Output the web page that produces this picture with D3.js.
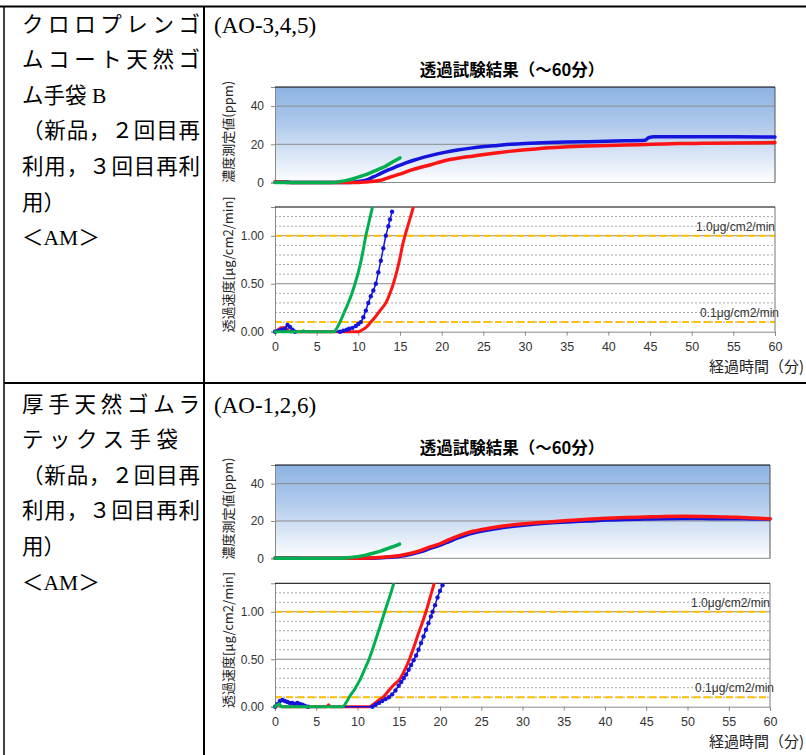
<!DOCTYPE html>
<html lang="ja">
<head>
<meta charset="utf-8">
<title>透過試験結果</title>
<style>
  html, body { margin: 0; background: #fff; }
  svg { display: block; }
</style>
</head>
<body>
<script src="https://cdn.jsdelivr.net/npm/d3@7/dist/d3.min.js"></script>
<script>
// ---- data: [minutes, value] ----
const concA_green = [[0,0],[6.8,0],[7.7,0.4],[8.6,1.1],[9.5,2.1],[10.4,3.4],[11.3,4.8],[12.2,6.5],[13.2,8.4],[14.1,10.7],[15.0,12.9]]
const concA_blue = [[0,0.3],[1.5,0.3],[2,0],[9,0],[10,0.5],[10.9,1.2],[11.8,2.9],[12.7,4.8],[13.6,6.6],[14.6,8.4],[15.7,10.3],[16.9,12],[18,13.4],[19.1,14.6],[20.5,15.9],[21.9,17],[23.5,18],[25.1,18.8],[26.7,19.4],[28.3,20],[30.6,20.5],[32.9,20.9],[35.2,21.2],[37.5,21.4],[39.8,21.6],[42.1,21.8],[44.4,22.1],[44.9,23.6],[45.5,23.9],[51.3,23.9],[55,23.9],[60,23.8]]
const concA_red = [[0,0.3],[1,0.3],[1.5,0],[10,0],[11,0.3],[11.8,0.6],[12.7,1.2],[13.6,2.5],[14.6,3.9],[15.5,5.2],[16.4,6.6],[17.5,8],[18.7,9.3],[19.8,10.7],[21,12],[22.3,13],[23.7,13.8],[25.1,14.7],[26.5,15.5],[28.1,16.3],[29.7,17],[31.3,17.6],[32.9,18.2],[35.2,18.7],[37.5,19.1],[39.8,19.4],[42.1,19.6],[44.4,19.9],[46.7,20.2],[49,20.4],[51.3,20.5],[55,20.7],[60,20.9]]

const rateA_green = [[0,0],[3.2,0],[3.4,0.01],[3.6,0],[7.1,0],[7.5,0.05],[7.8,0.1],[8.3,0.2],[8.7,0.28],[9.2,0.39],[9.6,0.5],[10,0.62],[10.3,0.73],[10.6,0.86],[10.9,1.0],[11.3,1.15],[11.7,1.3],[11.9,1.38]]
const rateA_blue = [[0,0],[0.4,0.01],[0.8,0.02],[1.2,0.03],[1.5,0.07],[1.8,0.05],[2.1,0.02],[2.4,0],[7.8,0],[8.2,0.01],[8.6,0.02],[8.9,0.03],[9.3,0.04],[9.7,0.06],[10,0.08],[10.3,0.1],[10.6,0.15],[10.9,0.22],[11.2,0.3],[11.5,0.37],[11.8,0.43],[12.1,0.5],[12.4,0.62],[12.7,0.74],[13,0.87],[13.3,1.0],[13.6,1.1],[13.8,1.17],[14.05,1.25]]
const rateA_red = [[0,0],[0.4,0.02],[0.7,0.04],[1.2,0.04],[1.5,0.02],[1.8,0],[10,0],[10.5,0.02],[11,0.05],[11.5,0.1],[12,0.15],[12.6,0.22],[13.3,0.3],[13.8,0.4],[14.2,0.5],[14.6,0.62],[15,0.77],[15.3,0.9],[15.6,1.0],[16,1.12],[16.6,1.3],[16.9,1.4]]

const concB_green = [[0,0],[7.7,0],[8.7,0.3],[10,0.9],[11,1.7],[11.9,2.7],[12.9,4.0],[13.8,5.5],[14.5,6.5],[15.1,7.6]]
const concB_blue = [[0,0.2],[3,0.2],[3.5,0],[11,0],[13,0.3],[14.7,0.8],[15.6,1.4],[16.5,2.1],[17.5,3.3],[18.4,4.6],[19.3,6],[20.2,7.4],[21.1,9],[22.1,10.8],[23,12.2],[24,13.5],[25.1,14.6],[26.3,15.5],[27.9,16.6],[29.5,17.4],[31.3,18.2],[33.2,18.9],[35.5,19.5],[37.9,20],[40.2,20.5],[42.5,20.8],[44.8,21],[47.1,21.2],[49.5,21.3],[51.8,21.3],[54,21.2],[56,21.2],[58,21.1],[60,21.1]]
const concB_red = [[0,0],[9.4,0],[11.4,0.2],[13,0.6],[14.7,1.2],[15.6,1.9],[16.5,2.7],[17.5,4],[18.4,5.5],[19.3,6.8],[20.2,8.2],[21.1,10],[22.1,11.8],[23,13.2],[24,14.5],[25.1,15.5],[26.3,16.4],[27.9,17.4],[29.5,18.2],[31.3,18.9],[33.2,19.5],[35.5,20.2],[37.9,20.9],[40.2,21.4],[42.5,21.8],[44.8,22.1],[47.1,22.4],[49.5,22.5],[51.8,22.4],[54,22.2],[56,22],[58,21.6],[60,21.2]]

const rateB_green = [[0,0],[0.3,0.02],[0.5,0.03],[0.8,0],[8.2,0],[8.6,0.04],[9,0.1],[9.7,0.19],[10.4,0.3],[10.9,0.4],[11.4,0.5],[12,0.65],[12.6,0.81],[13.3,1.0],[13.9,1.16],[14.4,1.3],[14.6,1.36]]
const rateB_blue = [[0,0],[0.3,0.03],[0.6,0.06],[0.9,0.07],[1.2,0.06],[1.5,0.05],[1.8,0.04],[2.1,0.04],[2.4,0.03],[2.7,0.04],[3,0.03],[3.3,0.02],[3.6,0.01],[4,0],[11.8,0],[12.2,0.02],[12.6,0.04],[13,0.06],[13.4,0.08],[13.8,0.1],[14.2,0.13],[14.6,0.17],[15,0.22],[15.3,0.26],[15.6,0.3],[15.9,0.34],[16.2,0.39],[16.5,0.44],[16.8,0.49],[17.1,0.54],[17.4,0.6],[17.7,0.67],[18,0.74],[18.3,0.81],[18.6,0.88],[18.9,0.95],[19.1,1.0],[19.4,1.07],[19.7,1.15],[20,1.22],[20.3,1.28]]
const rateB_red = [[0,0],[0.5,0.02],[0.8,0],[6.3,0],[6.5,0.02],[6.7,0],[11.4,0],[12,0.03],[12.6,0.07],[13.1,0.1],[13.7,0.16],[14.3,0.22],[15.2,0.3],[15.8,0.4],[16.3,0.5],[16.8,0.62],[17.3,0.75],[17.8,0.87],[18.3,1.0],[18.8,1.15],[19.3,1.3],[19.5,1.36]]

// ---- ticks and labels ----
const timeTicks = [0, 5, 10, 15, 20, 25, 30, 35, 40, 45, 50, 55, 60]
const concTicks = [0, 20, 40]
const rateTicks = [0, 0.5, 1.0]
const rateMinor = [0.1, 0.2, 0.3, 0.4, 0.6, 0.7, 0.8, 0.9, 1.1, 1.2]
const limits = [1.0, 0.1]
const limitLabels = ['1.0μg/cm2/min', '0.1μg/cm2/min']
const codes = ['(AO-3,4,5)', '(AO-1,2,6)']
const gloveText = [
  ['クロロプレンゴ', 'ムコート天然ゴ', 'ム手袋 B', '（新品，２回目再', '利用，３回目再利', '用）', '＜AM＞'],
  ['厚手天然ゴムラ', 'テックス手袋', '（新品，２回目再', '利用，３回目再利', '用）', '＜AM＞']
]
const chartTitle = '透過試験結果（～60分）'
const concTitle = '濃度測定値(ppm)'
const rateTitle = '透過速度[μg/cm2/min]'
const timeTitle = '経過時間（分)'

// ---- layout ----
const W = 806
const H = 755
const plotLeft = 275
const jpFont = '"Noto Sans CJK JP", sans-serif'
const numFont = '"Liberation Sans", Arial, sans-serif'
const serifFont = '"Liberation Serif", "Noto Sans CJK JP", serif'
const colors = { green: '#00b050', blue: '#1414dc', red: '#ff1414' }

const panels = [
  { textTop: 24, right: 775, concTop: 87, concBottom: 182.5, rateTop: 207, rateBottom: 331.7,
    conc: [concA_blue, concA_red, concA_green], rate: [rateA_red, rateA_blue, rateA_green],
    text: gloveText[0], fit: [178, 178, 0, 178, 178, 0, 0], code: codes[0] },
  { textTop: 404, right: 770, concTop: 465, concBottom: 558.3, rateTop: 583.3, rateBottom: 706.7,
    conc: [concB_blue, concB_red, concB_green], rate: [rateB_red, rateB_blue, rateB_green],
    text: gloveText[1], fit: [178, 156, 178, 178, 0, 0], code: codes[1] }
]
const concColors = [colors.blue, colors.red, colors.green]
const rateColors = [colors.red, colors.blue, colors.green]

const svg = d3.select('body').append('svg')
  .attr('width', W)
  .attr('height', H)
  .attr('viewBox', [0, 0, W, H])

const defs = svg.append('defs')
const grad = defs.append('linearGradient')
  .attr('id', 'concFill')
  .attr('x1', 0).attr('y1', 0).attr('x2', 0).attr('y2', 1)
grad.append('stop').attr('offset', '0%').attr('stop-color', '#8db3e2')
grad.append('stop').attr('offset', '35%').attr('stop-color', '#aac6ea')
grad.append('stop').attr('offset', '100%').attr('stop-color', '#ffffff')

// table rules
const rules = svg.append('g').attr('stroke', '#000')
rules.append('line').attr('x1', 0).attr('x2', W).attr('y1', 6.5).attr('y2', 6.5).attr('stroke-width', 2)
rules.append('line').attr('x1', 4).attr('x2', W).attr('y1', 383).attr('y2', 383).attr('stroke-width', 2)
rules.append('line').attr('x1', 4).attr('x2', 4).attr('y1', 6).attr('y2', H).attr('stroke-width', 1.5)
rules.append('line').attr('x1', 204).attr('x2', 204).attr('y1', 6).attr('y2', H).attr('stroke-width', 2)

function drawPanel(p, i) {
  const g = svg.append('g')
  const x = d3.scaleLinear().domain([0, 60]).range([plotLeft, p.right])
  const yC = d3.scaleLinear().domain([0, 50]).range([p.concBottom, p.concTop])
  const yR = d3.scaleLinear().domain([0, 1.3]).range([p.rateBottom, p.rateTop])

  // left column text
  p.text.forEach((t, k) => {
    const txt = g.append('text')
      .attr('x', 22)
      .attr('y', p.textTop + k * 35.6)
      .attr('dy', '0.35em')
      .attr('font-family', serifFont)
      .attr('font-size', 21.5)
      .attr('fill', '#000')
      .text(t)
    if (p.fit[k]) txt.attr('textLength', p.fit[k]).attr('lengthAdjust', 'spacing')
  })

  g.append('text')
    .attr('x', 214)
    .attr('y', p.textTop + 1)
    .attr('dy', '0.35em')
    .attr('font-family', serifFont)
    .attr('font-size', 23)
    .attr('fill', '#000')
    .text(p.code)

  g.append('text')
    .attr('x', 512)
    .attr('y', p.concTop - 11)
    .attr('text-anchor', 'middle')
    .attr('font-family', jpFont)
    .attr('font-weight', 'bold')
    .attr('font-size', 16.5)
    .attr('fill', '#000')
    .text(chartTitle)

  const clipId = 'clip' + i
  defs.append('clipPath').attr('id', clipId)
    .append('rect')
    .attr('x', plotLeft - 2).attr('y', p.rateTop)
    .attr('width', p.right - plotLeft + 4).attr('height', p.rateBottom - p.rateTop + 4)

  // ---- concentration chart ----
  g.append('rect')
    .attr('x', plotLeft).attr('y', p.concTop)
    .attr('width', p.right - plotLeft).attr('height', p.concBottom - p.concTop)
    .attr('fill', 'url(#concFill)')

  g.append('g').selectAll('line')
    .data(concTicks.filter(d => d > 0))
    .join('line')
    .attr('x1', plotLeft).attr('x2', p.right)
    .attr('y1', d => yC(d)).attr('y2', d => yC(d))
    .attr('stroke', '#8a8a8a')

  const cAxis = g.append('g')
    .attr('transform', `translate(${plotLeft},0)`)
    .call(d3.axisLeft(yC).tickValues(concTicks).tickSize(4).tickPadding(7).tickFormat(d3.format('d')))
  styleAxis(cAxis)

  g.append('line').attr('x1', plotLeft).attr('x2', p.right).attr('y1', p.concBottom).attr('y2', p.concBottom).attr('stroke', '#8a8a8a')
  g.append('line').attr('x1', p.right).attr('x2', p.right).attr('y1', p.concTop).attr('y2', p.concBottom).attr('stroke', '#555')
  g.append('line').attr('x1', plotLeft).attr('x2', p.right).attr('y1', p.concTop).attr('y2', p.concTop).attr('stroke', '#000')

  const concLine = d3.line().x(d => x(d[0])).y(d => yC(d[1])).curve(d3.curveMonotoneX)
  g.append('g').selectAll('path')
    .data(p.conc)
    .join('path')
    .attr('d', concLine)
    .attr('fill', 'none')
    .attr('stroke', (d, k) => concColors[k])
    .attr('stroke-width', 3.5)
    .attr('stroke-linejoin', 'round')
    .attr('stroke-linecap', 'round')

  g.append('text')
    .attr('transform', `translate(228,${(p.concTop + p.concBottom) / 2 - 3}) rotate(-90)`)
    .attr('text-anchor', 'middle')
    .attr('dy', '0.35em')
    .attr('font-family', jpFont)
    .attr('font-size', 13)
    .attr('fill', '#222')
    .text(concTitle)

  // ---- permeation rate chart ----
  g.append('rect')
    .attr('x', plotLeft).attr('y', p.rateTop)
    .attr('width', p.right - plotLeft).attr('height', p.rateBottom - p.rateTop)
    .attr('fill', '#fff')

  g.append('g').selectAll('line')
    .data(rateMinor)
    .join('line')
    .attr('x1', plotLeft).attr('x2', p.right)
    .attr('y1', d => yR(d)).attr('y2', d => yR(d))
    .attr('stroke', '#a8a8a8')
    .attr('stroke-dasharray', '2,2')

  g.append('g').selectAll('line')
    .data(rateTicks.filter(d => d > 0))
    .join('line')
    .attr('x1', plotLeft).attr('x2', p.right)
    .attr('y1', d => yR(d)).attr('y2', d => yR(d))
    .attr('stroke', '#8a8a8a')

  g.append('g').selectAll('line')
    .data(limits)
    .join('line')
    .attr('x1', plotLeft).attr('x2', p.right)
    .attr('y1', d => yR(d)).attr('y2', d => yR(d))
    .attr('stroke', '#ffc000')
    .attr('stroke-width', 2)
    .attr('stroke-dasharray', '7,4')

  g.append('g').selectAll('text')
    .data(limits)
    .join('text')
    .attr('x', (d, k) => p.right + (k === 0 ? 0 : 4))
    .attr('y', d => yR(d) - 9)
    .attr('dy', '0.35em')
    .attr('text-anchor', 'end')
    .attr('font-family', numFont)
    .attr('font-size', 12)
    .attr('fill', '#333')
    .text((d, k) => limitLabels[k])

  const rAxis = g.append('g')
    .attr('transform', `translate(${plotLeft},0)`)
    .call(d3.axisLeft(yR).tickValues(rateTicks).tickSize(4).tickPadding(7).tickFormat(d3.format('.2f')))
  styleAxis(rAxis)

  const xAxis = g.append('g')
    .attr('transform', `translate(0,${p.rateBottom})`)
    .call(d3.axisBottom(x).tickValues(timeTicks).tickSize(4).tickPadding(6).tickFormat(d3.format('d')))
  styleAxis(xAxis)
  xAxis.selectAll('text').attr('font-size', 12.5)

  g.append('line').attr('x1', p.right).attr('x2', p.right).attr('y1', p.rateTop).attr('y2', p.rateBottom).attr('stroke', '#777')
  g.append('line').attr('x1', plotLeft).attr('x2', p.right).attr('y1', p.rateTop).attr('y2', p.rateTop).attr('stroke', '#000')

  const rateLine = d3.line().x(d => x(d[0])).y(d => yR(d[1])).curve(d3.curveMonotoneX)
  const series = g.append('g').attr('clip-path', `url(#${clipId})`)
  series.selectAll('path')
    .data(p.rate)
    .join('path')
    .attr('d', rateLine)
    .attr('fill', 'none')
    .attr('stroke', (d, k) => rateColors[k])
    .attr('stroke-width', (d, k) => rateColors[k] === colors.blue ? 1.5 : 3)
    .attr('stroke-linejoin', 'round')
    .attr('stroke-linecap', 'round')
  const blue = p.rate[rateColors.indexOf(colors.blue)]
  series.append('g').selectAll('circle')
    .data(blue)
    .join('circle')
    .attr('cx', d => x(d[0]))
    .attr('cy', d => yR(d[1]))
    .attr('r', 2.2)
    .attr('fill', colors.blue)
  // keep green on top
  series.node().appendChild(series.select('path:last-of-type').node())

  g.append('text')
    .attr('transform', `translate(228,${(p.rateTop + p.rateBottom) / 2 - 5}) rotate(-90)`)
    .attr('text-anchor', 'middle')
    .attr('dy', '0.35em')
    .attr('font-family', jpFont)
    .attr('font-size', 13)
    .attr('fill', '#222')
    .text(rateTitle)

  g.append('text')
    .attr('x', 804)
    .attr('y', p.rateBottom + 35)
    .attr('dy', '0.35em')
    .attr('text-anchor', 'end')
    .attr('font-family', jpFont)
    .attr('font-size', 15)
    .attr('fill', '#222')
    .text(timeTitle)
}

function styleAxis(a) {
  a.select('.domain').attr('stroke', '#8a8a8a')
  a.selectAll('.tick line').attr('stroke', '#8a8a8a')
  a.selectAll('text')
    .attr('font-family', numFont)
    .attr('font-size', 12)
    .attr('fill', '#333')
}

panels.forEach(drawPanel)
</script>
</body>
</html>
